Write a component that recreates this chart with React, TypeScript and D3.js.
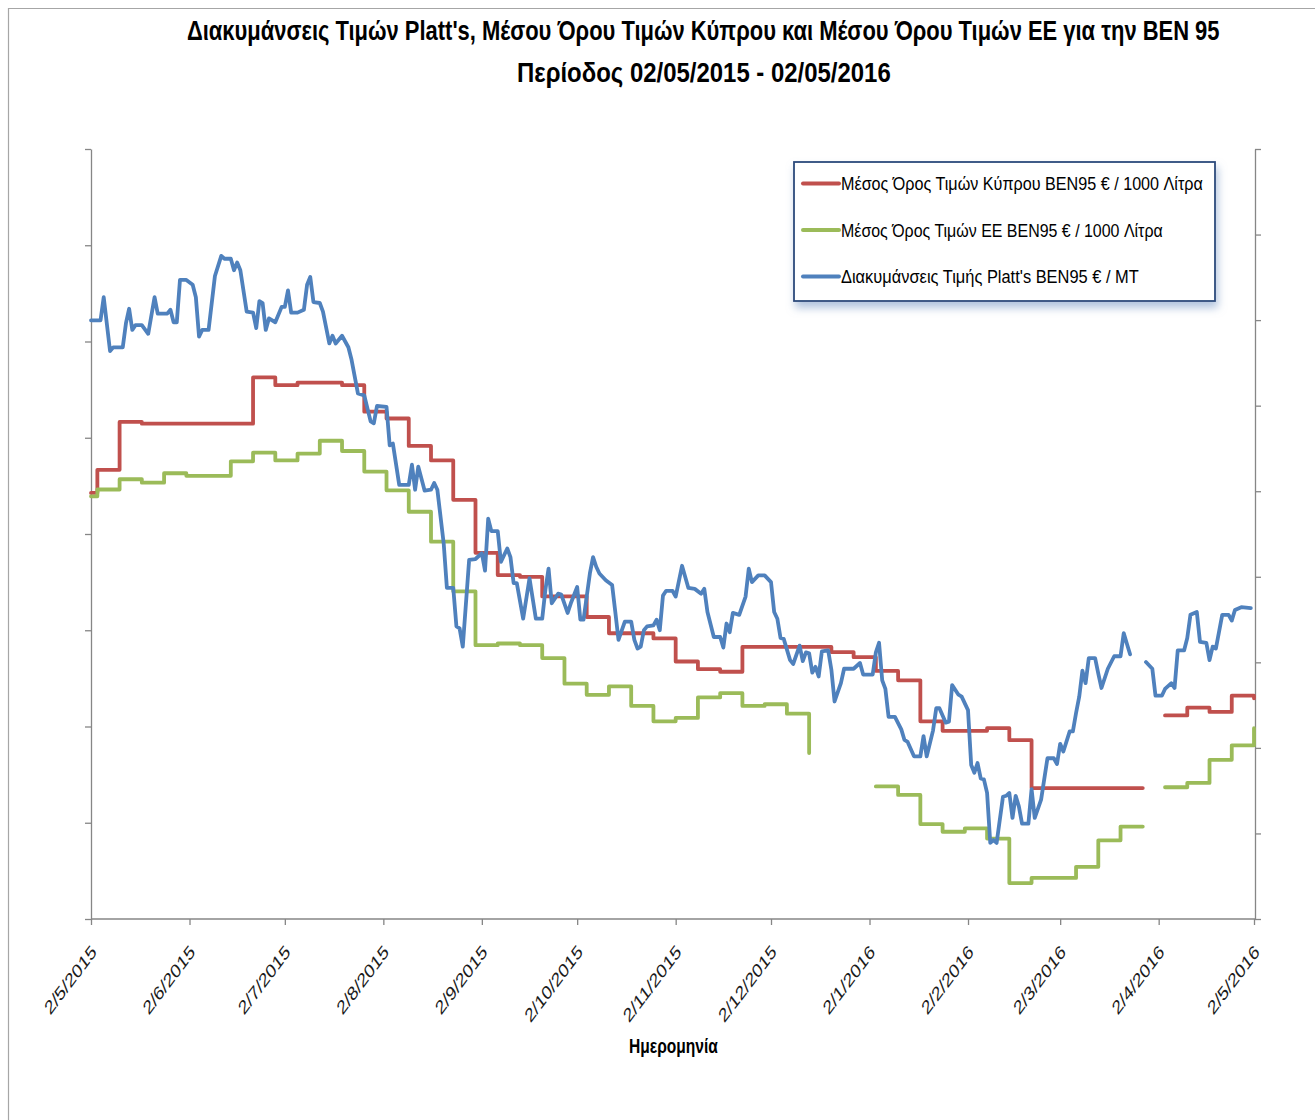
import React, { useEffect, useRef } from 'react';
import * as d3 from 'd3';

const WIDTH = 1315;
const HEIGHT = 1120;
const FONT = "'Liberation Sans Narrow', 'Liberation Sans', Arial, sans-serif";

const titleLines = [
  "Διακυμάνσεις Τιμών Platt's, Μέσου Όρου Τιμών Κύπρου και Μέσου Όρου Τιμών ΕΕ για την BEN 95",
  'Περίοδος 02/05/2015 - 02/05/2016',
];
const xAxisTitle = 'Ημερομηνία';

const seriesNames = [
  'Μέσος Όρος Τιμών Κύπρου  BEN95 € / 1000 Λίτρα',
  'Μέσος Όρος Τιμών ΕΕ BEN95 € / 1000 Λίτρα',
  "Διακυμάνσεις Τιμής Platt's BEN95 € / MT",
];
const seriesColors = ['#c0504d', '#9bbb59', '#4f81bd'];

const monthTicks = [
  '2015-05-02', '2015-06-02', '2015-07-02', '2015-08-02', '2015-09-02', '2015-10-02', '2015-11-02',
  '2015-12-02', '2016-01-02', '2016-02-02', '2016-03-02', '2016-04-02', '2016-05-02',
];

// y axes carry no labels in the original; these are the value ranges used
const leftTicks = d3.range(250, 651, 50); // Platt's €/MT
const rightTicks = d3.range(350, 801, 50); // €/1000 L

type Point = [string, number | null];

// weekly (Monday) average price, Cyprus, €/1000 L
const cyprusAvg: Point[] = [
  ['2015-05-02', 599], ['2015-05-04', 612.5], ['2015-05-11', 640.5], ['2015-05-18', 639.5],
  ['2015-06-22', 666.5], ['2015-06-29', 662], ['2015-07-06', 663.5], ['2015-07-20', 662],
  ['2015-07-27', 646.5], ['2015-08-03', 642.5], ['2015-08-10', 626.5], ['2015-08-17', 618],
  ['2015-08-24', 595], ['2015-08-31', 564], ['2015-09-07', 551], ['2015-09-14', 550],
  ['2015-09-21', 538.5], ['2015-10-05', 526.5], ['2015-10-12', 517], ['2015-10-26', 514],
  ['2015-11-02', 500.5], ['2015-11-09', 496], ['2015-11-16', 494.5], ['2015-11-23', 509],
  ['2015-12-21', 506], ['2015-12-28', 503], ['2016-01-04', 495], ['2016-01-11', 489.5],
  ['2016-01-18', 465.5], ['2016-01-25', 460], ['2016-02-08', 461.5], ['2016-02-15', 454.5],
  ['2016-02-22', 426.5], ['2016-03-28', 426.5], ['2016-03-29', null],
  ['2016-04-04', 469], ['2016-04-11', 473.5], ['2016-04-18', 471], ['2016-04-25', 480.5],
  ['2016-05-02', 479],
];

// weekly (Monday) average price, EU, €/1000 L
const euAvg: Point[] = [
  ['2015-05-02', 597], ['2015-05-04', 601], ['2015-05-11', 607], ['2015-05-18', 605],
  ['2015-05-25', 610.5], ['2015-06-01', 609], ['2015-06-15', 617.5], ['2015-06-22', 622.5],
  ['2015-06-29', 618], ['2015-07-06', 622], ['2015-07-13', 629.5], ['2015-07-20', 623.5],
  ['2015-07-27', 611.5], ['2015-08-03', 600.5], ['2015-08-10', 588], ['2015-08-17', 570.5],
  ['2015-08-24', 541.5], ['2015-08-31', 510], ['2015-09-07', 511], ['2015-09-14', 510],
  ['2015-09-21', 502.5], ['2015-09-28', 487.5], ['2015-10-05', 481], ['2015-10-12', 486],
  ['2015-10-19', 474.5], ['2015-10-26', 465.5], ['2015-11-02', 467.5], ['2015-11-09', 479.5],
  ['2015-11-16', 482], ['2015-11-23', 474.5], ['2015-11-30', 475.5], ['2015-12-07', 470],
  ['2015-12-14', 447], ['2015-12-15', null],
  ['2016-01-04', 427.5], ['2016-01-11', 422.5], ['2016-01-18', 405.5], ['2016-01-25', 401],
  ['2016-02-01', 403], ['2016-02-08', 397], ['2016-02-15', 371], ['2016-02-22', 374],
  ['2016-03-07', 380.5], ['2016-03-14', 396], ['2016-03-21', 404], ['2016-03-28', 404],
  ['2016-03-29', null],
  ['2016-04-04', 427], ['2016-04-11', 429.5], ['2016-04-18', 443], ['2016-04-25', 451.5],
  ['2016-05-02', 461.5],
];

// daily Platt's BEN95 quotation, €/MT
const platts: Point[] = [
  ['2015-05-02', 561], ['2015-05-05', 561], ['2015-05-06', 573], ['2015-05-08', 545],
  ['2015-05-09', 547], ['2015-05-12', 547], ['2015-05-13', 559.5], ['2015-05-14', 567],
  ['2015-05-15', 556], ['2015-05-16', 558.5], ['2015-05-18', 558.5], ['2015-05-20', 554],
  ['2015-05-22', 573], ['2015-05-23', 564.5], ['2015-05-26', 564.5], ['2015-05-27', 566.5],
  ['2015-05-28', 560], ['2015-05-29', 560], ['2015-05-30', 582], ['2015-06-01', 582],
  ['2015-06-03', 579.5], ['2015-06-04', 573], ['2015-06-05', 552.5], ['2015-06-06', 556],
  ['2015-06-08', 556], ['2015-06-10', 584], ['2015-06-12', 594.5], ['2015-06-13', 593],
  ['2015-06-15', 593], ['2015-06-16', 587], ['2015-06-17', 591], ['2015-06-18', 587],
  ['2015-06-20', 565.5], ['2015-06-22', 565], ['2015-06-23', 557], ['2015-06-24', 571],
  ['2015-06-25', 570], ['2015-06-26', 556], ['2015-06-27', 562], ['2015-06-29', 560],
  ['2015-07-01', 568], ['2015-07-02', 568], ['2015-07-03', 576.5], ['2015-07-04', 565],
  ['2015-07-06', 565], ['2015-07-08', 566.5], ['2015-07-09', 579.5], ['2015-07-10', 583.5],
  ['2015-07-11', 570.5], ['2015-07-13', 570], ['2015-07-14', 565.5], ['2015-07-16', 549],
  ['2015-07-17', 553], ['2015-07-18', 549], ['2015-07-20', 553], ['2015-07-22', 547],
  ['2015-07-23', 540.5], ['2015-07-25', 523], ['2015-07-27', 522], ['2015-07-29', 508.5],
  ['2015-07-30', 507.5], ['2015-07-31', 516.5], ['2015-08-03', 516], ['2015-08-04', 496],
  ['2015-08-05', 497], ['2015-08-07', 475.5], ['2015-08-10', 475.5], ['2015-08-11', 486],
  ['2015-08-12', 473], ['2015-08-13', 485], ['2015-08-15', 472.5], ['2015-08-17', 473],
  ['2015-08-18', 476.5], ['2015-08-19', 473], ['2015-08-21', 445], ['2015-08-22', 422],
  ['2015-08-24', 422], ['2015-08-25', 402], ['2015-08-26', 401], ['2015-08-27', 391.5],
  ['2015-08-29', 436.5], ['2015-08-31', 437], ['2015-09-02', 440], ['2015-09-03', 431],
  ['2015-09-04', 458], ['2015-09-05', 451.5], ['2015-09-07', 451.5], ['2015-09-08', 435.5],
  ['2015-09-10', 442.5], ['2015-09-11', 438], ['2015-09-12', 424.5], ['2015-09-13', 424.5],
  ['2015-09-15', 406], ['2015-09-17', 427], ['2015-09-19', 406], ['2015-09-21', 406],
  ['2015-09-22', 421], ['2015-09-23', 432], ['2015-09-24', 414], ['2015-09-26', 419],
  ['2015-09-27', 418.5], ['2015-09-29', 409], ['2015-09-30', 414], ['2015-10-02', 422.5],
  ['2015-10-03', 405.5], ['2015-10-04', 405.5], ['2015-10-06', 429.5], ['2015-10-07', 438],
  ['2015-10-08', 433], ['2015-10-09', 429.5], ['2015-10-11', 426], ['2015-10-13', 423.5],
  ['2015-10-14', 409.5], ['2015-10-15', 395], ['2015-10-17', 404.5], ['2015-10-19', 404.5],
  ['2015-10-20', 395], ['2015-10-21', 390.5], ['2015-10-22', 391.5], ['2015-10-23', 400],
  ['2015-10-24', 402], ['2015-10-26', 402.5], ['2015-10-27', 405.5], ['2015-10-28', 400],
  ['2015-10-29', 418], ['2015-10-30', 420.5], ['2015-11-01', 420.5], ['2015-11-02', 417.5],
  ['2015-11-04', 433.5], ['2015-11-06', 422], ['2015-11-08', 421.5], ['2015-11-10', 419],
  ['2015-11-11', 421.5], ['2015-11-12', 409.5], ['2015-11-14', 396.5], ['2015-11-16', 396.5],
  ['2015-11-17', 391], ['2015-11-18', 403.5], ['2015-11-19', 399], ['2015-11-20', 409],
  ['2015-11-22', 408], ['2015-11-24', 417.5], ['2015-11-25', 432], ['2015-11-26', 425],
  ['2015-11-28', 428.5], ['2015-11-30', 428.5], ['2015-12-02', 425], ['2015-12-03', 409.5],
  ['2015-12-04', 406], ['2015-12-05', 396], ['2015-12-06', 395.5], ['2015-12-08', 384.5],
  ['2015-12-09', 382.5], ['2015-12-11', 392], ['2015-12-12', 384], ['2015-12-13', 388.5],
  ['2015-12-14', 388], ['2015-12-15', 378], ['2015-12-16', 381], ['2015-12-17', 376],
  ['2015-12-18', 389], ['2015-12-20', 389.5], ['2015-12-21', 379.5], ['2015-12-22', 363],
  ['2015-12-24', 372.5], ['2015-12-25', 380], ['2015-12-28', 380], ['2015-12-30', 383],
  ['2015-12-31', 377], ['2016-01-03', 377], ['2016-01-04', 388.5], ['2016-01-05', 393.5],
  ['2016-01-06', 374], ['2016-01-07', 369.5], ['2016-01-08', 355], ['2016-01-10', 355],
  ['2016-01-12', 348.5], ['2016-01-13', 343], ['2016-01-14', 342], ['2016-01-16', 334.5],
  ['2016-01-18', 334.5], ['2016-01-19', 345], ['2016-01-20', 334.5], ['2016-01-22', 348],
  ['2016-01-23', 359.5], ['2016-01-24', 359.5], ['2016-01-26', 352], ['2016-01-27', 352.5],
  ['2016-01-28', 371.5], ['2016-01-30', 366.5], ['2016-01-31', 365.5], ['2016-02-02', 358.5],
  ['2016-02-03', 330], ['2016-02-04', 326], ['2016-02-05', 331], ['2016-02-06', 323],
  ['2016-02-07', 322.5], ['2016-02-08', 315.5], ['2016-02-09', 289.5], ['2016-02-10', 291],
  ['2016-02-11', 289.5], ['2016-02-13', 313.5], ['2016-02-14', 314], ['2016-02-15', 315.5],
  ['2016-02-16', 302.5], ['2016-02-17', 314], ['2016-02-18', 308.5], ['2016-02-19', 299.5],
  ['2016-02-21', 299.5], ['2016-02-22', 317.5], ['2016-02-23', 302.5], ['2016-02-25', 312],
  ['2016-02-27', 333.5], ['2016-02-29', 333.5], ['2016-03-01', 330.5], ['2016-03-02', 341],
  ['2016-03-03', 337], ['2016-03-05', 347.5], ['2016-03-06', 347.5], ['2016-03-07', 357],
  ['2016-03-08', 365.5], ['2016-03-09', 379], ['2016-03-10', 372.5], ['2016-03-11', 385.5],
  ['2016-03-13', 385.5], ['2016-03-14', 377.5], ['2016-03-15', 370], ['2016-03-17', 380],
  ['2016-03-19', 386.5], ['2016-03-21', 386.5], ['2016-03-22', 398.5], ['2016-03-23', 393],
  ['2016-03-24', 387.5], ['2016-03-25', null],
  ['2016-03-29', 383.5], ['2016-03-31', 380], ['2016-04-01', 366], ['2016-04-03', 366],
  ['2016-04-04', 369.5], ['2016-04-06', 372.5], ['2016-04-07', 370], ['2016-04-08', 389.5],
  ['2016-04-10', 389.5], ['2016-04-11', 396], ['2016-04-12', 408], ['2016-04-14', 409.5],
  ['2016-04-15', 394], ['2016-04-17', 393.5], ['2016-04-18', 384.5], ['2016-04-19', 391.5],
  ['2016-04-20', 390.5], ['2016-04-22', 408], ['2016-04-24', 408], ['2016-04-25', 405],
  ['2016-04-26', 410.5], ['2016-04-28', 412], ['2016-05-01', 411.5],
];

const parse = d3.timeParse('%Y-%m-%d');
const fmt = d3.timeFormat('%-d/%-m/%Y');

// squeeze a text horizontally to a given width (the original uses a condensed face)
function fitText(
  text: d3.Selection<SVGTextElement, any, any, any>,
  x: number,
  y: number,
  width: number
) {
  text.attr('x', 0).attr('y', 0);
  const w = (text.node() as SVGTextElement).getComputedTextLength() || width;
  text.attr('transform', `translate(${x},${y}) scale(${width / w},1)`);
}

function drawChart(el: SVGSVGElement) {
  const svg = d3.select(el);
  svg.selectAll('*').remove();

  const x = d3
    .scaleTime()
    .domain([parse('2015-05-02')!, parse('2016-05-02')!])
    .range([91, 1254]);
  const yLeft = d3.scaleLinear().domain([250, 650]).range([919, 149]);
  const yRight = d3.scaleLinear().domain([350, 800]).range([919, 149]);

  const defs = svg.append('defs');
  const f = defs
    .append('filter')
    .attr('id', 'legendShadow')
    .attr('x', '-10%')
    .attr('y', '-20%')
    .attr('width', '120%')
    .attr('height', '150%');
  f.append('feDropShadow')
    .attr('dx', 2)
    .attr('dy', 6)
    .attr('stdDeviation', 4)
    .attr('flood-color', '#7f9cc8')
    .attr('flood-opacity', 0.6);

  // chart frame
  svg
    .append('path')
    .attr('d', `M8.5,${HEIGHT}V8.5H${WIDTH}`)
    .attr('fill', 'none')
    .attr('stroke', '#a6a6a6')
    .attr('stroke-width', 1.2);

  // title
  const titleG = svg.append('g').attr('font-family', FONT).attr('font-weight', 'bold').attr('fill', '#000');
  fitText(titleG.append('text').attr('font-size', 27).text(titleLines[0]), 187, 40, 1033);
  fitText(titleG.append('text').attr('font-size', 27).text(titleLines[1]), 517, 82, 374);

  // axes
  const axisColor = '#868686';
  const gL = svg
    .append('g')
    .attr('transform', 'translate(91,0)')
    .call(d3.axisLeft(yLeft).tickValues(leftTicks).tickFormat(() => '').tickSize(6).tickSizeOuter(0));
  const gR = svg
    .append('g')
    .attr('transform', 'translate(1255,0)')
    .call(d3.axisRight(yRight).tickValues(rightTicks).tickFormat(() => '').tickSize(6).tickSizeOuter(0));
  const gB = svg
    .append('g')
    .attr('transform', 'translate(0,919)')
    .call(
      d3
        .axisBottom(x)
        .tickValues(monthTicks.map(d => parse(d)!))
        .tickFormat(d => fmt(d as Date))
        .tickSize(6)
        .tickSizeOuter(0)
    );
  gB.select('.domain').attr('d', 'M91,0H1256');

  [gL, gR, gB].forEach(g => {
    g.selectAll('path, line').attr('stroke', axisColor).attr('stroke-width', 1.3);
  });
  gL.selectAll('text').remove();
  gR.selectAll('text').remove();

  gB.selectAll<SVGTextElement, Date>('.tick text')
    .attr('x', null)
    .attr('y', null)
    .attr('dy', null)
    .attr('fill', '#1a1a1a')
    .attr('font-family', FONT)
    .attr('font-size', 19)
    .attr('text-anchor', 'end')
    .each(function (d) {
      const w = this.getComputedTextLength() || 1;
      const k = (fmt(d).length * 11.1) / w;
      d3.select(this).attr('transform', `translate(6,34) scale(0.754,1) rotate(-45) scale(${k},1)`);
    });

  fitText(
    svg
      .append('text')
      .attr('font-family', FONT)
      .attr('font-weight', 'bold')
      .attr('font-size', 19.5)
      .attr('fill', '#000')
      .text(xAxisTitle),
    629,
    1053,
    89
  );

  // series
  type Row = { date: Date; value: number | null };
  const rows = (pts: Point[]): Row[] => pts.map(([d, v]) => ({ date: parse(d)!, value: v }));

  const stepLine = d3
    .line<Row>()
    .defined(d => d.value != null)
    .x(d => x(d.date))
    .y(d => yRight(d.value as number))
    .curve(d3.curveStepAfter);

  const plattsLine = d3
    .line<Row>()
    .defined(d => d.value != null)
    .x(d => x(d.date))
    .y(d => yLeft(d.value as number));

  const lines = svg
    .append('g')
    .attr('fill', 'none')
    .attr('stroke-width', 3.8)
    .attr('stroke-linejoin', 'round')
    .attr('stroke-linecap', 'round');

  lines.append('path').attr('d', stepLine(rows(cyprusAvg))).attr('stroke', seriesColors[0]);
  lines.append('path').attr('d', stepLine(rows(euAvg))).attr('stroke', seriesColors[1]);
  lines.append('path').attr('d', plattsLine(rows(platts))).attr('stroke', seriesColors[2]);

  // legend
  const lg = svg.append('g');
  lg.append('rect')
    .attr('x', 794)
    .attr('y', 162)
    .attr('width', 421)
    .attr('height', 139)
    .attr('fill', '#fff')
    .attr('stroke', '#2c4a7c')
    .attr('stroke-width', 1.8)
    .attr('filter', 'url(#legendShadow)');

  const legendLengths = [362, 322, 298];
  seriesNames.forEach((name, i) => {
    const cy = 183.5 + i * 46.5;
    lg.append('line')
      .attr('x1', 803)
      .attr('x2', 839)
      .attr('y1', cy)
      .attr('y2', cy)
      .attr('stroke', seriesColors[i])
      .attr('stroke-width', 4)
      .attr('stroke-linecap', 'round');
    fitText(
      lg
        .append('text')
        .attr('font-family', FONT)
        .attr('font-size', 18.5)
        .attr('fill', '#000')
        .text(name),
      841,
      cy + 6.5,
      legendLengths[i]
    );
  });
}

export default function App() {
  const ref = useRef<SVGSVGElement>(null);

  useEffect(() => {
    if (ref.current) drawChart(ref.current);
  }, []);

  return (
    <svg
      ref={ref}
      width={WIDTH}
      height={HEIGHT}
      style={{ position: 'absolute', left: 0, top: 0, background: '#fff' }}
    />
  );
}
